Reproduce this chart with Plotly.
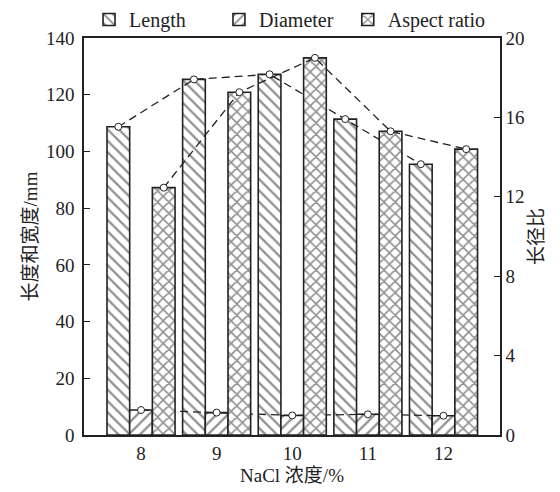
import plotly.graph_objects as go

nacl = [8, 9, 10, 11, 12]
length_mm = [108.7, 125.4, 127.2, 111.4, 95.5]
diameter_mm = [8.8, 7.9, 6.9, 7.3, 6.8]
aspect_ratio = [12.46, 17.27, 19.0, 15.3, 14.4]
left_ticks = [0, 20, 40, 60, 80, 100, 120, 140]
right_ticks = [0, 4, 8, 12, 16, 20]

FONT = "Liberation Serif, Times New Roman, Noto Sans CJK SC, serif"
INK = "#222222"
BW = 0.3
offsets = [-1.5 * BW, -0.5 * BW, 0.5 * BW]

fig = go.Figure()

series = [
    ("Length", length_mm, "\\", "y", 0.28, "legend"),
    ("Diameter", diameter_mm, "/", "y", 0.28, "legend2"),
    ("Aspect ratio", aspect_ratio, "x", "y2", 0.36, "legend3"),
]

for (name, vals, shape, ax, sol, leg), off in zip(series, offsets):
    fig.add_trace(go.Bar(
        x=nacl, y=vals, name=name, yaxis=ax, legend=leg,
        width=BW, offset=off,
        marker=dict(color="white",
                    line=dict(color=INK, width=1.6),
                    pattern=dict(shape=shape, fgcolor=INK, bgcolor="white",
                                 size=8, solidity=sol, fillmode="overlay")),
    ))

for (name, vals, shape, ax, sol, leg), off in zip(series, offsets):
    fig.add_trace(go.Scatter(
        x=[v + off + BW / 2 for v in nacl], y=vals, yaxis=ax,
        mode="lines+markers", showlegend=False, hoverinfo="skip",
        line=dict(color=INK, width=1.3, dash="8px,5px"),
        marker=dict(symbol="circle", size=7, color="white",
                    line=dict(color=INK, width=1)),
    ))

def f(size):
    return dict(family=FONT, size=size, color=INK)

def leg(xpos):
    return dict(orientation="h", xref="container", x=xpos, xanchor="left",
                yref="container", y=1.0, yanchor="top",
                font=f(20), bgcolor="rgba(0,0,0,0)")

fig.update_layout(
    width=560, height=492,
    margin=dict(l=84, r=60, t=38, b=57, autoexpand=False),
    paper_bgcolor="white", plot_bgcolor="white",
    font=f(19),
    barmode="overlay",
    legend=leg(0.159), legend2=leg(0.391), legend3=leg(0.621),
    xaxis=dict(range=[7.246, 12.747], tickvals=nacl, ticktext=[str(v) for v in nacl],
               ticks="", showgrid=False, zeroline=False, automargin=False,
               showline=True, linecolor=INK, linewidth=1.5, mirror=True,
               title=dict(text="NaCl 浓度/%", font=f(19), standoff=6),
               tickfont=f(19)),
    yaxis=dict(range=[0, 140], tickvals=left_ticks, ticks="inside", ticklen=6,
               tickcolor=INK, tickwidth=1.3, automargin=False, ticklabelstandoff=4,
               showgrid=False, zeroline=False, showline=True, linecolor=INK, linewidth=1.5,
               title=dict(text="长度和宽度/mm", font=f(19), standoff=3),
               tickfont=f(19)),
    yaxis2=dict(range=[0, 20], tickvals=right_ticks, ticks="inside", ticklen=6,
                tickcolor=INK, tickwidth=1.3, overlaying="y", side="right", automargin=False,
                showgrid=False, zeroline=False, showline=True, linecolor=INK, linewidth=1.5,
                title=dict(text="长径比", font=f(19), standoff=6),
                tickfont=f(19)),
)

fig.write_html("out.html", config={"displayModeBar": False},
               post_script="document.body.style.margin='0';")
